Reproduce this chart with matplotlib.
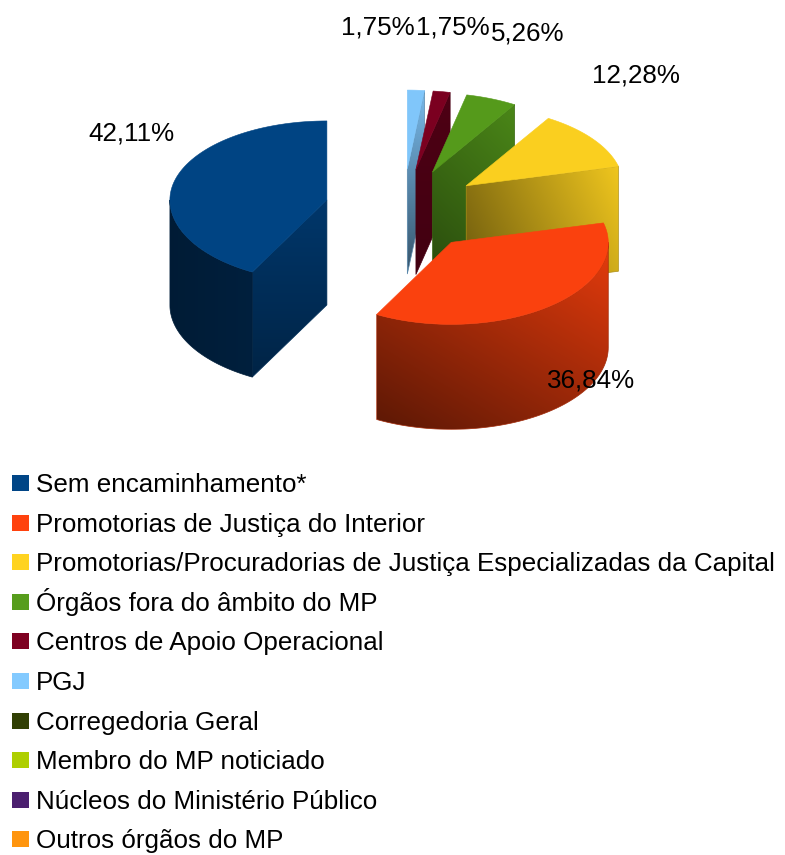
import numpy as np
import matplotlib
matplotlib.use('Agg')
import matplotlib.pyplot as plt
from matplotlib.patches import Polygon, Rectangle
from matplotlib.colors import to_rgb

# data
categories = ['Sem encaminhamento*', 'Promotorias de Justiça do Interior',
              'Promotorias/Procuradorias de Justiça Especializadas da Capital',
              'Órgãos fora do âmbito do MP', 'Centros de Apoio Operacional', 'PGJ',
              'Corregedoria Geral', 'Membro do MP noticiado',
              'Núcleos do Ministério Público', 'Outros órgãos do MP']
values = [42.11, 36.84, 12.28, 5.26, 1.75, 1.75, 0, 0, 0, 0]
colors = ['#004586', '#ff420e', '#ffd320', '#579d1c', '#7e0021',
          '#83caff', '#314004', '#aecf00', '#4b1f6f', '#ff950e']
# where the percent labels sit (center x, baseline y)
label_pos = {0: (131, 141), 1: (591, 387), 2: (636, 83), 3: (528, 41), 4: (453, 34), 5: (378, 34)}

# pie geometry in pixels, back of the ellipse is a bit flatter than the front
cx, cy = 403, 210
rx = 157
ry_back, ry_front = 79, 82
depth = 105
explode = 0.5

# gradient per slice: direction (dx, dy), brightness at start and end
wall_shade = {0: ((1, 0), 0.40, 0.46), 1: ((0.6, -1), 0.36, 0.90)}
cut_shade = {0: ((0, 1), 0.80, 0.52), 2: ((1, -0.45), 0.42, 0.94),
             3: ((1, -1), 0.48, 0.86), 4: ((0, 1), 0.62, 0.52), 5: ((0, 1), 0.92, 0.42)}

fig = plt.figure(figsize=(7.85, 8.55), dpi=100)
ax = fig.add_axes([0, 0, 1, 1])
ax.set_axis_off()


def rim_point(x0, y0, t):
    s = np.sin(t)
    return x0 + rx * np.cos(t), y0 - np.where(s > 0, ry_back, ry_front) * s


def rim(x0, y0, a0, a1, n=80):
    t = np.radians(np.linspace(a0, a1, n))
    return np.column_stack(rim_point(x0, y0, t))


def shaded(points, color, shade, z):
    # linear gradient image clipped to the polygon
    (dx, dy), f0, f1 = shade
    x0, y0 = points.min(axis=0)
    x1, y1 = points.max(axis=0)
    xx, yy = np.meshgrid(np.linspace(x0, x1, 200), np.linspace(y0, y1, 200))
    g = dx * xx + dy * yy
    g = (g - g.min()) / (g.max() - g.min())
    f = f0 + (f1 - f0) * g
    img = np.dstack([f * c for c in to_rgb(color)])
    poly = Polygon(points, closed=True, facecolor='none', edgecolor='none', zorder=z)
    ax.add_patch(poly)
    im = ax.imshow(img, extent=(x0, x1, y1, y0), origin='upper', aspect='auto',
                   interpolation='bilinear', zorder=z)
    im.set_clip_path(poly)
    # thin edge to soften the clip
    mid = np.array(to_rgb(color)) * (f0 + f1) / 2
    ax.add_patch(Polygon(points, closed=True, facecolor='none', edgecolor=mid, lw=0.5, zorder=z))


shares = np.array(values) / sum(values) * 360
starts = 90 + np.concatenate([[0], np.cumsum(shares)[:-1]])

# back to front
order = [5, 4, 3, 2, 0, 1]
for k, i in enumerate(order):
    a0, a1 = starts[i], starts[i] + shares[i]
    mid = np.radians((a0 + a1) / 2)
    x0 = cx + explode * rx * np.cos(mid)
    y0 = cy - explode * ry_front * np.sin(mid)
    z = 2 + k
    c = colors[i]

    # cut faces
    for a, seen in ((a0, np.cos(np.radians(a0)) > 1e-6), (a1, np.cos(np.radians(a1)) < -1e-6)):
        if seen and i in cut_shade:
            px, py = rim_point(x0, y0, np.radians(a))
            quad = np.array([[x0, y0], [px, py], [px, py + depth], [x0, y0 + depth]])
            shaded(quad, c, cut_shade[i], z)

    # outer wall, only the front half shows
    lo, hi = max(a0, 180), min(a1, 360)
    if hi > lo and i in wall_shade:
        top = rim(x0, y0, lo, hi)
        bottom = top + [0, depth]
        shaded(np.vstack([top, bottom[::-1]]), c, wall_shade[i], z)

    # top face
    face = np.vstack([[x0, y0], rim(x0, y0, a0, a1)])
    top_c = np.array(to_rgb(c)) * 0.98
    ax.add_patch(Polygon(face, closed=True, facecolor=top_c, edgecolor=top_c, lw=0.4, zorder=z + 0.5))

for i, (x, y) in label_pos.items():
    ax.text(x, y, f'{values[i]:.2f}%'.replace('.', ','), ha='center', va='baseline',
            fontsize=18.7, family='Liberation Sans', color='black', zorder=20)

# legend
for i, name in enumerate(categories):
    y = 492 + 39.6 * i
    ax.add_patch(Rectangle((12, y - 17), 16.5, 16, facecolor=colors[i], edgecolor='none', zorder=20))
    ax.text(36, y, name, ha='left', va='baseline', fontsize=18.7,
            family='Liberation Sans', color='black', zorder=20)

ax.set_xlim(0, 785)
ax.set_ylim(855, 0)
fig.savefig('out.png', dpi=100, facecolor='white')
